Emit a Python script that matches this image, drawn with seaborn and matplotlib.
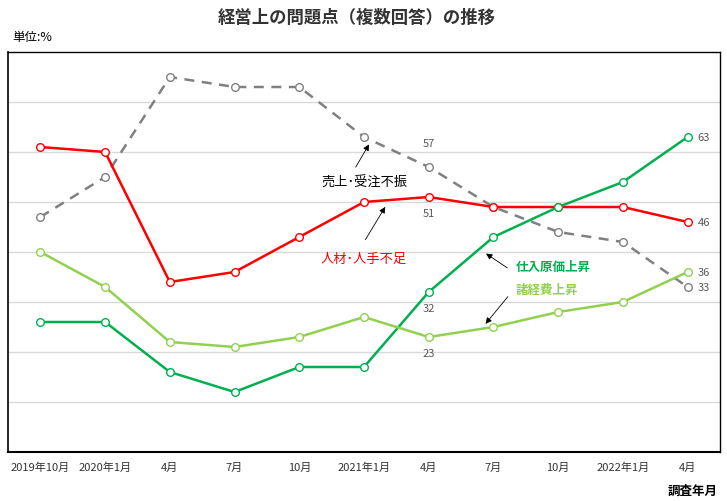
import matplotlib
matplotlib.use("Agg")
import matplotlib.pyplot as plt
import seaborn as sns
import pandas as pd

sns.set_style("white")
plt.rcParams['font.family'] = ['Noto Sans CJK JP', 'DejaVu Sans']

periods = ["2019年10月", "2020年1月", "4月", "7月", "10月", "2021年1月",
           "4月", "7月", "10月", "2022年1月", "4月"]
sales = [47, 55, 75, 73, 73, 63, 57, 49, 44, 42, 33]        # 売上・受注不振
labor = [61, 60, 34, 36, 43, 50, 51, 49, 49, 49, 46]        # 人材・人手不足
cost_in = [26, 26, 16, 12, 17, 17, 32, 43, 49, 54, 63]      # 仕入原価上昇
expenses = [40, 33, 22, 21, 23, 27, 23, 25, 28, 30, 36]     # 諸経費上昇

series = [
    ("売上・受注不振", sales, "#808080", (0, (4, 3))),
    ("人材・人手不足", labor, "#FF0000", "-"),
    ("仕入原価上昇", cost_in, "#00B050", "-"),
    ("諸経費上昇", expenses, "#92D050", "-"),
]

fig = plt.figure(figsize=(7.27, 5.02), dpi=100)
ax = fig.add_axes([8/727, 49/502, 712/727, 400/502])

idx = list(range(len(periods)))
for name, vals, color, ls in series:
    df = pd.DataFrame({"x": idx, "y": vals})
    sns.lineplot(data=df, x="x", y="y", ax=ax, color=color, linewidth=1.8,
                 linestyle=ls, marker="o", markersize=5.5, markerfacecolor="white",
                 markeredgecolor=color, markeredgewidth=1.0, legend=False)

ax.set_xlim(-0.5, len(periods) - 0.5)
ax.set_ylim(0, 80)
ax.set_yticks(range(10, 80, 10))
ax.set_yticklabels([])
ax.tick_params(axis="y", length=0)
ax.grid(axis="y", color="#D9D9D9", linewidth=1)
ax.set_axisbelow(True)

ax.set_xticks(idx)
ax.set_xticklabels(periods, fontsize=8, color="#333333")
ax.tick_params(axis="x", which="major", length=0, pad=7)
ax.set_xticks([i + 0.5 for i in idx[:-1]], minor=True)
ax.tick_params(axis="x", which="minor", direction="in", length=4, color="black")
ax.set_xlabel("")
ax.set_ylabel("")
for s in ax.spines.values():
    s.set_color("black")
    s.set_linewidth(1)
ax.spines["bottom"].set_linewidth(1.5)
ax.spines["left"].set_linewidth(1.2)

# data labels
lab_color = "#595959"
i6 = 6
ax.annotate(str(sales[i6]), (i6, sales[i6]), xytext=(0, 14), textcoords="offset points",
            ha="center", va="bottom", fontsize=8, color=lab_color)
ax.annotate(str(labor[i6]), (i6, labor[i6]), xytext=(0, -8), textcoords="offset points",
            ha="center", va="top", fontsize=8, color=lab_color)
ax.annotate(str(cost_in[i6]), (i6, cost_in[i6]), xytext=(0, -8), textcoords="offset points",
            ha="center", va="top", fontsize=8, color=lab_color)
ax.annotate(str(expenses[i6]), (i6, expenses[i6]), xytext=(0, -8), textcoords="offset points",
            ha="center", va="top", fontsize=8, color=lab_color)
last = len(periods) - 1
for vals in (cost_in, labor, expenses, sales):
    ax.annotate(str(vals[last]), (last, vals[last]), xytext=(7, 0), textcoords="offset points",
                ha="left", va="center", fontsize=8, color=lab_color)

# series annotations with arrows
arrow = dict(arrowstyle="-|>", color="black", lw=0.6, mutation_scale=9)
ax.annotate("", xy=(5.1, 62), xytext=(4.85, 56.5), arrowprops=arrow)
ax.text(5.0, 54, "売上･受注不振", ha="center", va="center", fontsize=9.5, color="black")
ax.annotate("", xy=(5.35, 49.5), xytext=(5.0, 42), arrowprops=arrow)
ax.text(5.0, 38.8, "人材･人手不足", ha="center", va="center", fontsize=9.5, color="#FF0000")
ax.annotate("", xy=(6.85, 40), xytext=(7.25, 36.5), arrowprops=arrow)
ax.text(7.35, 37.2, "仕入原価上昇", ha="left", va="center", fontsize=9,
        color="#00B050", fontweight="bold")
ax.annotate("", xy=(6.85, 25.2), xytext=(7.25, 31.5), arrowprops=arrow)
ax.text(7.35, 32.6, "諸経費上昇", ha="left", va="center", fontsize=9,
        color="#92D050", fontweight="bold")

fig.text(357/727, 1 - 18/502, "経営上の問題点（複数回答）の推移", ha="center", va="center",
         fontsize=12.5, fontweight="bold", color="#333333")
fig.text(12/727, 1 - 37/502, "単位:%", ha="left", va="center", fontsize=9, color="black")
fig.text(718/727, 1 - 491/502, "調査年月", ha="right", va="center", fontsize=9,
         fontweight="bold", color="black")

fig.savefig("out.png", dpi=100)
